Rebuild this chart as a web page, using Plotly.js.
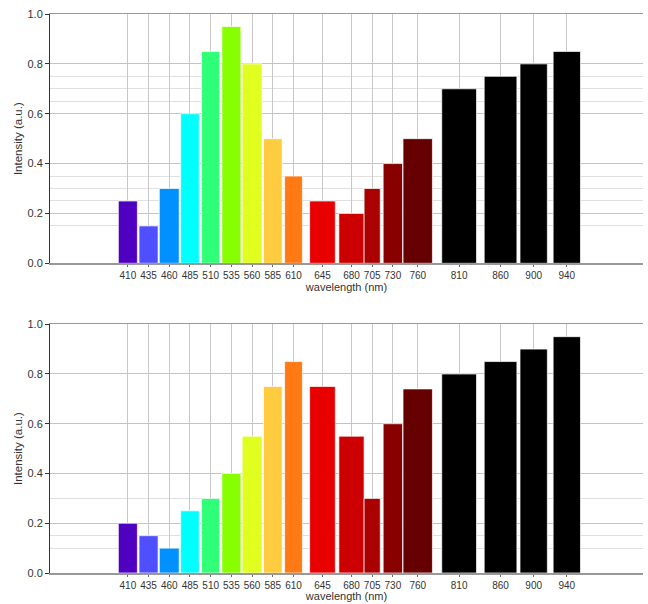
<!DOCTYPE html>
<html>
<head>
<meta charset="utf-8">
<script src="https://cdn.plot.ly/plotly-3.0.1.min.js"></script>
<style>html,body{margin:0;padding:0;background:#fff;}#chart{width:648px;height:604px;}</style>
</head>
<body>
<div id="chart"></div>
<script>
// ---- data ----
const wavelengths = [410, 435, 460, 485, 510, 535, 560, 585, 610, 645, 680, 705, 730, 760, 810, 860, 900, 940];
const tickLabels = ["410", "435", "460", "485", "510", "535", "560", "585", "610", "645", "680", "705", "730", "760", "810", "860", "900", "940"];
const bandWidths = [23, 23, 24, 22.5, 22, 23, 24, 22.5, 21.5, 31, 30.5, 19.5, 23.5, 35.5, 42, 39.5, 33, 33];
const intensityTop = [0.25, 0.15, 0.30, 0.60, 0.85, 0.95, 0.80, 0.50, 0.35, 0.25, 0.20, 0.30, 0.40, 0.50, 0.70, 0.75, 0.80, 0.85];
const intensityBottom = [0.20, 0.15, 0.10, 0.25, 0.30, 0.40, 0.55, 0.75, 0.85, 0.75, 0.55, 0.30, 0.60, 0.74, 0.80, 0.85, 0.90, 0.95];
const barColors = ["#5000c0", "#4f4fff", "#0090ff", "#00ffff", "#30ff78", "#88ff00", "#e0ff20", "#ffcc40", "#ff7a14",
                   "#e80000", "#cc0000", "#aa0000", "#880000", "#660000", "#000000", "#000000", "#000000", "#000000"];
const yTickVals = [0, 0.2, 0.4, 0.6, 0.8, 1.0];
const yTickText = ["0.0", "0.2", "0.4", "0.6", "0.8", "1.0"];
const topLightGrid = [0.15, 0.25, 0.30, 0.35, 0.65, 0.70, 0.75];
const topFaintGrid = [0.10, 0.50, 0.90];
const bottomLightGrid = [0.10, 0.15, 0.30];
const bottomFaintGrid = [0.35, 0.50, 0.65, 0.85, 0.95];

const fontFam = '"Liberation Sans", Arial, sans-serif';

function barTrace(values, xa, ya) {
  return {
    type: 'bar', x: wavelengths, y: values, width: bandWidths,
    xaxis: xa, yaxis: ya,
    marker: { color: barColors, line: { color: 'rgba(255,255,255,0.7)', width: 1 } },
    hoverinfo: 'x+y', showlegend: false
  };
}

function xAxis(anchor) {
  return {
    anchor: anchor, range: [316, 1032], tickmode: 'array', tickvals: wavelengths, ticktext: tickLabels,
    tickfont: { size: 10, color: '#333' }, ticks: 'outside', ticklen: 2, tickcolor: '#666',
    showgrid: true, gridcolor: '#c8c8c8', gridwidth: 1,
    showline: true, linecolor: '#999', linewidth: 1.5, mirror: true, zeroline: false,
    title: { text: 'wavelength (nm)', font: { size: 11, color: '#333' }, standoff: 3 }
  };
}

function yAxis(anchor, domain, lightVals) {
  return {
    anchor: anchor, domain: domain, range: [0, 1], tickmode: 'array', tickvals: yTickVals, ticktext: yTickText,
    tickfont: { size: 11, color: '#333' }, ticks: 'outside', ticklen: 4, tickcolor: '#333',
    showgrid: true, gridcolor: '#c4c4c4', gridwidth: 1,
    minor: { tickmode: 'array', tickvals: lightVals, showgrid: true, gridcolor: '#e0e0e0', ticks: '' },
    showline: true, linecolor: '#333', linewidth: 1, zeroline: false,
    title: { text: 'Intensity (a.u.)', font: { size: 11.5, color: '#333' }, standoff: 2 }
  };
}

function overlayAxis(over, anchor, faintVals) {
  return {
    overlaying: over, anchor: anchor, side: 'right', range: [0, 1],
    tickmode: 'array', tickvals: faintVals, showticklabels: false, ticks: '',
    showgrid: true, gridcolor: '#f1f1f1', gridwidth: 1,
    showline: true, linecolor: '#aaa', linewidth: 2, zeroline: false
  };
}

const data = [
  barTrace(intensityTop, 'x', 'y'),
  barTrace(intensityBottom, 'x2', 'y2')
];

const layout = {
  width: 648, height: 604,
  margin: { l: 50, r: 5, t: 14, b: 31 },
  paper_bgcolor: '#fff', plot_bgcolor: '#fff',
  font: { family: fontFam, color: '#333' },
  bargap: 0,
  xaxis: xAxis('y'),
  yaxis: yAxis('x', [0.554, 1], topLightGrid),
  xaxis2: xAxis('y2'),
  yaxis2: yAxis('x2', [0, 0.445], bottomLightGrid),
  yaxis3: overlayAxis('y', 'x', topFaintGrid),
  yaxis4: overlayAxis('y2', 'x2', bottomFaintGrid)
};

Plotly.newPlot('chart', data, layout, { displayModeBar: false, staticPlot: true });
</script>
</body>
</html>
